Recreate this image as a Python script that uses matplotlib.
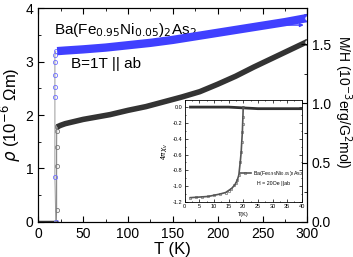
import numpy as np
import matplotlib.pyplot as plt
from matplotlib.ticker import MultipleLocator

plt.rcParams['font.family'] = ['Liberation Sans', 'DejaVu Sans']

# resistivity (left axis, 10^-6 Ohm m)
T_rho = [21, 25, 30, 40, 50, 60, 70, 80, 90, 100, 120, 140, 160, 180, 200,
         220, 240, 260, 280, 300]
rho = [1.78, 1.81, 1.84, 1.88, 1.92, 1.95, 1.98, 2.01, 2.05, 2.09, 2.16,
       2.25, 2.34, 2.44, 2.58, 2.73, 2.90, 3.06, 3.22, 3.38]
T_zero = [2, 5, 10, 15, 20]
rho_zero = [0, 0, 0, 0, 0]
T_tr = [20.0, 20.4, 20.4, 20.4, 20.5, 20.6, 21]
rho_tr = [0, 0.23, 1.05, 1.41, 1.71, 1.78, 1.80]

# magnetization M/H (right axis, 10^-3 erg/G^2 mol)
T_m = [21, 30, 50, 75, 100, 125, 150, 175, 200, 225, 250, 275, 300]
mh = [1.44, 1.445, 1.455, 1.47, 1.49, 1.51, 1.535, 1.565, 1.595, 1.625,
      1.655, 1.685, 1.72]
T_mtr = [19.5, 18.5, 18.5, 18.5, 18.5, 18.5, 18.5, 19.5]
mh_tr = [1.44, 1.404, 1.35, 1.24, 1.14, 1.053, 0.378, 0.0]

# inset: 4 pi chi_v
T_fc = [2, 5, 10, 15, 20, 25, 30, 35, 40]
chi_fc = [0.0, 0.0, 0.0, 0.0, -0.01, -0.02, -0.02, -0.02, -0.02]
T_zfc = [2, 4, 6, 8, 10, 12, 14, 15, 16, 17, 17.5, 18, 18.5, 19, 19.3,
         19.5, 19.7, 19.8, 19.9, 20.0]
chi_zfc = [-1.145, -1.14, -1.135, -1.13, -1.115, -1.10, -1.08, -1.055,
           -1.03, -0.99, -0.96, -0.92, -0.86, -0.69, -0.57, -0.44, -0.32,
           -0.22, -0.12, 0.0]

fig = plt.figure(figsize=(3.53, 2.57), dpi=100)
ax = fig.add_axes([0.1085, 0.137, 0.7625, 0.83])
ax2 = ax.twinx()

ax.plot(T_zero, rho_zero, color='#333333', lw=2.5)
ax.plot(T_tr, rho_tr, color='#888888', lw=0.8, marker='o', ms=3,
        mfc='none', mec='#777777', mew=0.6)
ax.plot(T_rho, rho, color='#333333', lw=4, solid_capstyle='butt')
ax.plot(T_rho[-1:], rho[-1:], 'o', ms=4, mfc='white', mec='#333333', mew=0.8)

ax2.plot(T_mtr, mh_tr, color='#999999', lw=0.7, marker='o', ms=3,
         mfc='none', mec='#7070ff', mew=0.6)
ax2.plot(T_m, mh, color='#4040ff', lw=6, solid_capstyle='butt')
ax2.plot(T_m[-1:], mh[-1:], 'o', ms=4, mfc='white', mec='#4040ff', mew=0.8)
ax2.annotate('', xy=(299, 1.66), xytext=(258, 1.66),
             arrowprops=dict(arrowstyle='-|>', color='#4040ff', lw=1,
                             mutation_scale=5))

ax.set_xlim(0, 300)
ax.set_ylim(0, 4)
ax2.set_ylim(0, 1.8)
ax.xaxis.set_major_locator(MultipleLocator(50))
ax.xaxis.set_minor_locator(MultipleLocator(25))
ax.yaxis.set_major_locator(MultipleLocator(1))
ax.yaxis.set_minor_locator(MultipleLocator(0.5))
ax2.yaxis.set_major_locator(MultipleLocator(0.5))
ax2.yaxis.set_minor_locator(MultipleLocator(0.25))
ax.tick_params(which='both', direction='in', top=True, labelsize=10)
ax.tick_params(which='major', length=4)
ax.tick_params(which='minor', length=2)
ax2.tick_params(which='both', direction='in', labelsize=10, pad=3)
ax2.tick_params(which='major', length=4)
ax2.tick_params(which='minor', length=2)
ax2.yaxis.set_major_formatter(plt.FormatStrFormatter('%.1f'))

ax.set_xlabel('T (K)', fontsize=12, labelpad=1)
ax.set_ylabel(r'$\rho$ (10$^{-6}$ Ωm)', fontsize=12, labelpad=2)
ax2.set_ylabel(r'M/H (10$^{-3}$erg/G$^2$mol)', fontsize=10, rotation=270,
               va='center')
ax2.yaxis.set_label_coords(1.13, 0.56)

ax.text(18, 3.6, r'Ba(Fe$_{0.95}$Ni$_{0.05}$)$_2$As$_2$', fontsize=11,
        va='center')
ax.text(37, 2.95, 'B=1T || ab', fontsize=11, va='center')

# inset
ins = fig.add_axes([0.523, 0.214, 0.332, 0.397])
ins.plot(T_fc, chi_fc, color='#333333', lw=2)
ins.plot(T_zfc, chi_zfc, color='#555555', lw=1.2, marker='o', ms=1.8,
         mfc='none', mew=0.4, label=r'Ba(Fe$_{0.95}$Ni$_{0.05}$)$_2$As$_2$')
ins.set_xlim(0, 40)
ins.set_ylim(-1.2, 0.09)
ins.xaxis.set_major_locator(MultipleLocator(5))
ins.yaxis.set_major_locator(MultipleLocator(0.2))
ins.yaxis.set_minor_locator(MultipleLocator(0.1))
ins.xaxis.set_minor_locator(MultipleLocator(2.5))
ins.tick_params(which='both', direction='in', top=True, right=True,
                labelsize=4, pad=1.5)
ins.tick_params(which='major', length=2, width=0.5)
ins.tick_params(which='minor', length=1, width=0.5)
ins.yaxis.set_major_formatter(plt.FormatStrFormatter('%.1f'))
for s in ins.spines.values():
    s.set_linewidth(0.6)
ins.set_xlabel('T(K)', fontsize=4, labelpad=2)
ins.set_ylabel(r'4$\pi\chi_v$', fontsize=5, labelpad=2)
ins.legend(loc='center left', bbox_to_anchor=(0.45, 0.28), fontsize=3.8,
           frameon=False, handlelength=2, borderpad=0, handletextpad=0.4)
ins.text(0.62, 0.17, 'H = 20Oe ||ab', transform=ins.transAxes, fontsize=3.8)

fig.savefig('out.png', dpi=100)
